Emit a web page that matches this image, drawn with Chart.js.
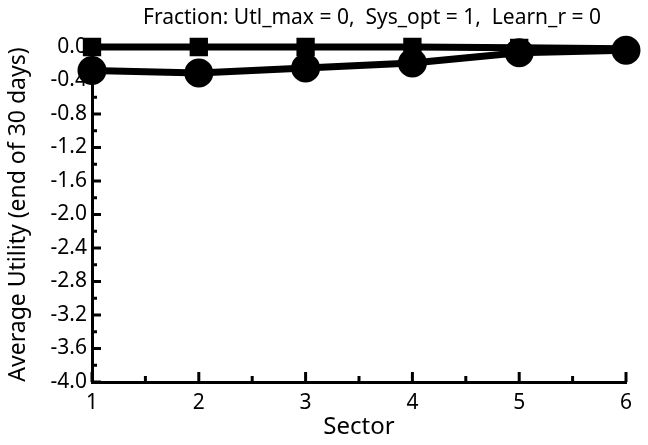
<!DOCTYPE html>
<html>
<head>
<meta charset="utf-8">
<script src="https://cdn.jsdelivr.net/npm/chart.js@4/dist/chart.umd.min.js"></script>
<style>
  html, body { margin: 0; padding: 0; background: #fff; }
  #wrap { width: 648px; height: 445px; }
</style>
</head>
<body>
<div id="wrap"><canvas id="chart" width="648" height="445"></canvas></div>
<script>
const sectors = [1, 2, 3, 4, 5, 6];
const sysOptValues = [0.0, 0.0, 0.0, 0.0, -0.01, -0.02];
const learnValues = [-0.28, -0.31, -0.25, -0.19, -0.07, -0.04];
const yTickStep = 0.4;
const titleText = 'Fraction: Utl_max = 0,  Sys_opt = 1,  Learn_r = 0';

const fontFamily = '"Noto Sans", "Open Sans", sans-serif';

function toPoints(values) {
  return sectors.map((x, i) => ({ x: x, y: values[i] }));
}

// ticks point inward from the left and bottom axes, with a minor tick between each pair
const inwardTicks = {
  id: 'inwardTicks',
  afterDraw(chart) {
    const { ctx, scales: { x, y } } = chart;
    const x0 = x.left, y0 = y.bottom;
    ctx.save();
    ctx.strokeStyle = '#000';
    ctx.lineWidth = 3;
    for (let k = 0; k <= 10; k++) {
      const px = x.getPixelForValue(1 + k * 0.5);
      const len = k % 2 === 0 ? 10 : 6;
      ctx.beginPath();
      ctx.moveTo(px, y0);
      ctx.lineTo(px, y0 - len);
      ctx.stroke();
    }
    for (let k = 0; k <= 20; k++) {
      const py = y.getPixelForValue(-4 + k * 0.2);
      const len = k % 2 === 0 ? 9 : 5;
      ctx.beginPath();
      ctx.moveTo(x0, py);
      ctx.lineTo(x0 + len, py);
      ctx.stroke();
    }
    ctx.restore();
  }
};

const topTitle = {
  id: 'topTitle',
  afterDraw(chart) {
    const ctx = chart.ctx;
    ctx.save();
    ctx.fillStyle = '#000';
    ctx.font = '21px ' + fontFamily;
    ctx.textAlign = 'center';
    ctx.textBaseline = 'middle';
    ctx.fillText(titleText, 372, 18);
    ctx.restore();
  }
};

new Chart(document.getElementById('chart'), {
  type: 'line',
  data: {
    datasets: [
      {
        label: 'Sys_opt',
        data: toPoints(sysOptValues),
        borderColor: '#000',
        backgroundColor: '#000',
        borderWidth: 7,
        pointStyle: 'rect',
        pointRadius: 8,
        pointHoverRadius: 8,
        clip: false
      },
      {
        label: 'Learn',
        data: toPoints(learnValues),
        borderColor: '#000',
        backgroundColor: '#000',
        borderWidth: 7,
        pointStyle: 'circle',
        pointRadius: 11,
        pointHoverRadius: 11,
        clip: false
      }
    ]
  },
  options: {
    responsive: false,
    animation: false,
    layout: { padding: { top: 47, right: 22, left: 0, bottom: 0 } },
    plugins: {
      legend: { display: false },
      tooltip: { enabled: false }
    },
    scales: {
      x: {
        type: 'linear',
        min: 1,
        max: 6,
        grid: { display: false, drawTicks: false },
        border: { display: true, color: '#000', width: 3 },
        ticks: {
          stepSize: 1,
          color: '#000',
          padding: 8,
          font: { family: fontFamily, size: 21 }
        },
        title: {
          display: true,
          text: 'Sector',
          color: '#000',
          padding: { top: 0, bottom: 3 },
          font: { family: fontFamily, size: 24 }
        },
        afterFit(scale) { scale.height = 63; }
      },
      y: {
        type: 'linear',
        min: -4,
        max: 0,
        grid: { display: false, drawTicks: false },
        border: { display: true, color: '#000', width: 3 },
        ticks: {
          stepSize: yTickStep,
          color: '#000',
          padding: 5,
          font: { family: fontFamily, size: 21 },
          callback: (v) => (Math.abs(v) < 1e-9 ? 0 : v).toFixed(1)
        },
        title: {
          display: true,
          text: 'Average Utility (end of 30 days)',
          color: '#000',
          padding: { top: 5, bottom: 0 },
          font: { family: fontFamily, size: 23 }
        },
        afterFit(scale) { scale.width = 92; }
      }
    }
  },
  plugins: [inwardTicks, topTitle]
});
</script>
</body>
</html>
